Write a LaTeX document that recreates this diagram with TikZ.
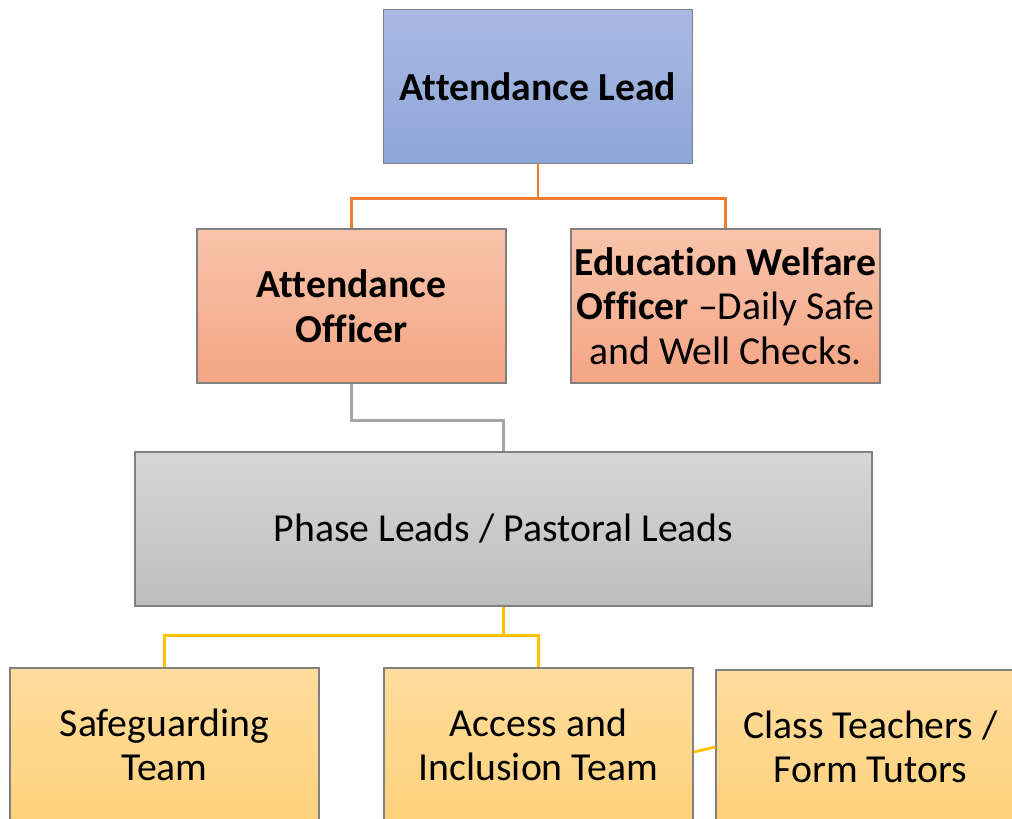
\documentclass[tikz,border=0pt]{standalone}
\usepackage{fontspec}
\setmainfont[Ligatures=NoCommon]{Carlito}
\definecolor{leadtop}{HTML}{AAB9E1}
\definecolor{leadbot}{HTML}{8EA6DA}
\definecolor{offtop}{HTML}{F8C4AB}
\definecolor{offbot}{HTML}{F4A584}
\definecolor{phasetop}{HTML}{D6D6D6}
\definecolor{phasebot}{HTML}{BEBEBE}
\definecolor{teamtop}{HTML}{FEDC9C}
\definecolor{teambot}{HTML}{FED27C}
\definecolor{orangeln}{HTML}{ED7D31}
\definecolor{greyln}{HTML}{A5A5A5}
\definecolor{yellowln}{HTML}{FFC000}
\begin{document}
\begin{tikzpicture}[
	box/.style={draw=black!50, line width=.7pt, minimum width=6.18cm, minimum height=3.08cm,
		align=center, font=\fontsize{22.6}{25.4}\selectfont, inner sep=1pt},
	leadbox/.style={box, top color=leadtop, bottom color=leadbot},
	offbox/.style={box, top color=offtop, bottom color=offbot},
	phasebox/.style={box, minimum width=14.74cm, top color=phasetop, bottom color=phasebot},
	teambox/.style={box, top color=teamtop, bottom color=teambot},
	link/.style={line width=1.6pt}]
	\clip (0,0) rectangle (20.24,-16.36);
	\node[leadbox]  (lead)   at (10.76,-1.73)  {\textbf{Attendance Lead}};
	\node[offbox]   (ao)     at (7.03,-6.12)   {\textbf{Attendance}\\\textbf{Officer}};
	\node[offbox]   (ewo)    at (14.51,-6.12)  {\textbf{Education Welfare}\\\textbf{Officer} --Daily Safe\\and Well Checks.};
	\node[phasebox] (phase)  at (10.07,-10.58) {Phase Leads / Pastoral Leads};
	\node[teambox]  (safe)   at (3.29,-14.90)  {Safeguarding\\Team};
	\node[teambox]  (access) at (10.77,-14.90) {Access and\\Inclusion Team};
	\node[teambox]  (class)  at (17.41,-14.94) {Class Teachers /\\Form Tutors};
	\draw[link, orangeln] (lead.south) -- ++(0,-.68) -| (ao.north);
	\draw[link, orangeln] (lead.south) -- ++(0,-.68) -| (ewo.north);
	\draw[link, greyln]   (ao.south) -- ++(0,-.74) -| (phase.north);
	\draw[link, yellowln] (phase.south) -- ++(0,-.58) -| (safe.north);
	\draw[link, yellowln] (phase.south) -- ++(0,-.58) -| (access.north);
	\draw[link, yellowln] ([yshift=-4pt]access.east) -- (class.west);
\end{tikzpicture}
\end{document}
